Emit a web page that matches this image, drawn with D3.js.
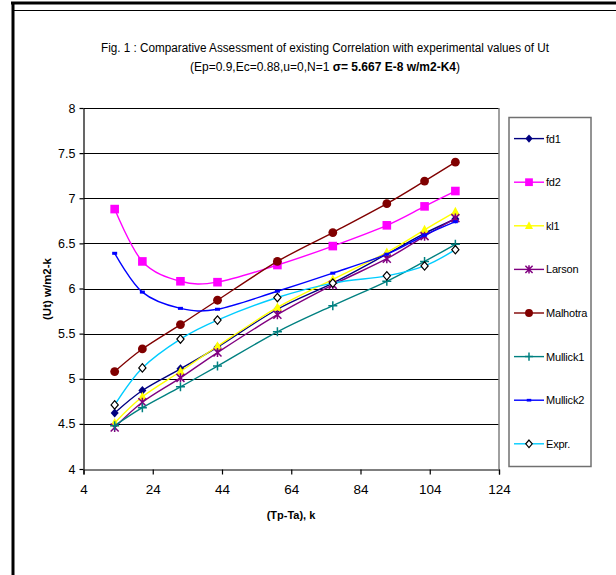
<!DOCTYPE html>
<html>
<head>
<meta charset="utf-8">
<script src="https://cdn.jsdelivr.net/npm/d3@7"></script>
<style>
  body { margin: 0; background: #fff; }
  svg { display: block; font-family: "Liberation Sans", Arial, sans-serif; }
</style>
</head>
<body>
<div class="data_figure"></div>
<script>
// x positions (Tp-Ta) and Ut values per correlation
const xVals = [13, 21, 32, 42.7, 60, 76, 91.6, 102.5, 111.4];

const fd1Vals      = [4.62, 4.87, 5.11, 5.35, 5.77, 6.06, 6.38, 6.61, 6.77];
const fd2Vals      = [6.88, 6.30, 6.08, 6.07, 6.26, 6.47, 6.70, 6.91, 7.08];
const kl1Vals      = [4.51, 4.80, 5.08, 5.36, 5.79, 6.10, 6.40, 6.65, 6.85];
const larsonVals   = [4.46, 4.74, 5.01, 5.29, 5.71, 6.04, 6.33, 6.58, 6.78];
const malhotraVals = [5.08, 5.33, 5.60, 5.87, 6.30, 6.62, 6.94, 7.19, 7.40];
const mullick1Vals = [4.48, 4.68, 4.91, 5.14, 5.52, 5.81, 6.08, 6.30, 6.49];
const mullick2Vals = [6.39, 5.96, 5.78, 5.77, 5.97, 6.17, 6.38, 6.59, 6.74];
const exprVals     = [4.71, 5.12, 5.44, 5.65, 5.90, 6.06, 6.14, 6.25, 6.43];

const seriesNames = ["fd1", "fd2", "kl1", "Larson", "Malhotra", "Mullick1", "Mullick2", "Expr."];
const xTicks = [4, 24, 44, 64, 84, 104, 124];
const yTicks = [4, 4.5, 5, 5.5, 6, 6.5, 7, 7.5, 8];

const width = 616, height = 575;
const plot = { left: 83.5, right: 499, top: 108, bottom: 469 };

const series = [
  { name: seriesNames[0], vals: fd1Vals,      color: "#000080", marker: "diamond" },
  { name: seriesNames[1], vals: fd2Vals,      color: "#FF00FF", marker: "square" },
  { name: seriesNames[2], vals: kl1Vals,      color: "#FFFF00", marker: "triangle" },
  { name: seriesNames[3], vals: larsonVals,   color: "#800080", marker: "star" },
  { name: seriesNames[4], vals: malhotraVals, color: "#800000", marker: "circle" },
  { name: seriesNames[5], vals: mullick1Vals, color: "#008080", marker: "plus" },
  { name: seriesNames[6], vals: mullick2Vals, color: "#0000FF", marker: "dash" },
  { name: seriesNames[7], vals: exprVals,     color: "#00CCFF", marker: "hollowDiamond" },
];

const xScale = d3.scaleLinear().domain([4, 124]).range([plot.left, plot.right]);
const yScale = d3.scaleLinear().domain([4, 8]).range([plot.bottom, plot.top]);

const svg = d3.select(".data_figure").append("svg")
  .attr("width", width).attr("height", height);

// page frame
svg.append("line").attr("x1", 11).attr("x2", 616).attr("y1", 3).attr("y2", 3)
  .attr("stroke", "#000").attr("stroke-width", 3);
svg.append("line").attr("x1", 13).attr("x2", 616).attr("y1", 10.5).attr("y2", 10.5)
  .attr("stroke", "#000").attr("stroke-width", 1);
svg.append("line").attr("x1", 13).attr("x2", 13).attr("y1", 2).attr("y2", 575)
  .attr("stroke", "#000").attr("stroke-width", 3);

// title
svg.append("text")
  .attr("x", 325).attr("y", 52)
  .attr("text-anchor", "middle")
  .attr("textLength", 448).attr("lengthAdjust", "spacingAndGlyphs")
  .style("font-size", "12px")
  .text("Fig. 1 : Comparative Assessment of existing Correlation with experimental values of Ut");

const t2 = svg.append("text")
  .attr("x", 325).attr("y", 71)
  .attr("text-anchor", "middle")
  .style("font-size", "12px");
t2.append("tspan").text("(Ep=0.9,Ec=0.88,u=0,N=1 ");
t2.append("tspan").style("font-weight", "bold").text("σ= 5.667 E-8 w/m2-K4");
t2.append("tspan").text(")");

// gridlines
svg.append("g").selectAll("line")
  .data(yTicks.filter(d => d > 4))
  .enter().append("line")
  .attr("x1", plot.left).attr("x2", plot.right)
  .attr("y1", d => Math.round(yScale(d)) + 0.5)
  .attr("y2", d => Math.round(yScale(d)) + 0.5)
  .attr("stroke", "#000").attr("stroke-width", 1.2);

// right frame
svg.append("line")
  .attr("x1", plot.right).attr("x2", plot.right)
  .attr("y1", plot.top).attr("y2", plot.bottom)
  .attr("stroke", "#808080").attr("stroke-width", 1.5);

// axes
const xAxis = svg.append("g")
  .attr("transform", "translate(0," + (plot.bottom + 0.5) + ")")
  .call(d3.axisBottom(xScale).tickValues(xTicks).tickSize(5).tickSizeOuter(5).tickPadding(10));
const yAxis = svg.append("g")
  .attr("transform", "translate(" + plot.left + ",0)")
  .call(d3.axisLeft(yScale).tickValues(yTicks).tickSize(4).tickSizeOuter(0).tickPadding(4).tickFormat(d => d));

[xAxis, yAxis].forEach(ax => {
  ax.selectAll("path, line").attr("stroke", "#000").attr("stroke-width", 1.2);
  ax.selectAll("text").attr("fill", "#000").style("font-family", "'Liberation Sans', Arial, sans-serif");
});
xAxis.selectAll("text").style("font-size", "13.5px");
yAxis.selectAll("text").style("font-size", "12.5px");

// axis titles
svg.append("text")
  .attr("x", 291).attr("y", 519)
  .attr("text-anchor", "middle")
  .style("font-size", "11px").style("font-weight", "bold")
  .text("(Tp-Ta), k");
svg.append("text")
  .attr("transform", "translate(51," + 289 + ") rotate(-90)")
  .attr("text-anchor", "middle")
  .style("font-size", "11.5px").style("font-weight", "bold")
  .text("(Ut) w/m2-k");

// marker drawing
function drawMarker(g, type, color, s) {
  s = s || 1;
  if (type === "diamond") {
    g.append("path").attr("d", `M0,${-4.5*s}L${4*s},0L0,${4.5*s}L${-4*s},0Z`).attr("fill", color);
  } else if (type === "hollowDiamond") {
    g.append("path").attr("d", `M0,${-4.2*s}L${3.6*s},0L0,${4.2*s}L${-3.6*s},0Z`)
      .attr("fill", "#fff").attr("stroke", "#000").attr("stroke-width", 1.2);
  } else if (type === "square") {
    g.append("rect").attr("x", -4.3*s).attr("y", -4.3*s).attr("width", 8.6*s).attr("height", 8.6*s).attr("fill", color);
  } else if (type === "triangle") {
    g.append("path").attr("d", `M0,${-5*s}L${4.5*s},${3.5*s}L${-4.5*s},${3.5*s}Z`).attr("fill", color);
  } else if (type === "circle") {
    g.append("circle").attr("r", 4.4*s).attr("fill", color);
  } else if (type === "plus") {
    g.append("path").attr("d", `M${-4.5*s},0H${4.5*s}M0,${-4.5*s}V${4.5*s}`)
      .attr("stroke", color).attr("stroke-width", 1.5);
  } else if (type === "star") {
    g.append("path").attr("d", `M${-4*s},${-4*s}L${4*s},${4*s}M${4*s},${-4*s}L${-4*s},${4*s}M0,${-4.5*s}V${4.5*s}`)
      .attr("stroke", color).attr("stroke-width", 1.5);
  } else if (type === "dash") {
    g.append("rect").attr("x", -2.5*s).attr("y", -1.5*s).attr("width", 5*s).attr("height", 3*s).attr("fill", color);
  }
}

const line = d3.line()
  .x((d, i) => xScale(xVals[i]))
  .y(d => yScale(d))
  .curve(d3.curveCardinal.tension(0));

series.forEach(s => {
  const g = svg.append("g").attr("class", "series");
  g.append("path")
    .attr("d", line(s.vals))
    .attr("fill", "none")
    .attr("stroke", s.color)
    .attr("stroke-width", 1.4);
  s.vals.forEach((v, i) => {
    const m = g.append("g").attr("transform", "translate(" + xScale(xVals[i]) + "," + yScale(v) + ")");
    drawMarker(m, s.marker, s.color, 1);
  });
});

// legend
const legend = svg.append("g").attr("id", "legend");
legend.append("rect")
  .attr("x", 509).attr("y", 117.5).attr("width", 82).attr("height", 349)
  .attr("fill", "#fff").attr("stroke", "#707070").attr("stroke-width", 1.5);

series.forEach((s, i) => {
  const y = 138.6 + i * 43.6;
  const g = legend.append("g");
  g.append("line").attr("x1", 514).attr("x2", 544).attr("y1", y).attr("y2", y)
    .attr("stroke", s.color).attr("stroke-width", 1.4);
  const m = g.append("g").attr("transform", "translate(529," + y + ")");
  drawMarker(m, s.marker, s.color, 0.9);
  g.append("text").attr("x", 546).attr("y", y + 4)
    .style("font-size", "11px")
    .style("letter-spacing", "-0.2px")
    .text(s.name);
});
</script>
</body>
</html>
